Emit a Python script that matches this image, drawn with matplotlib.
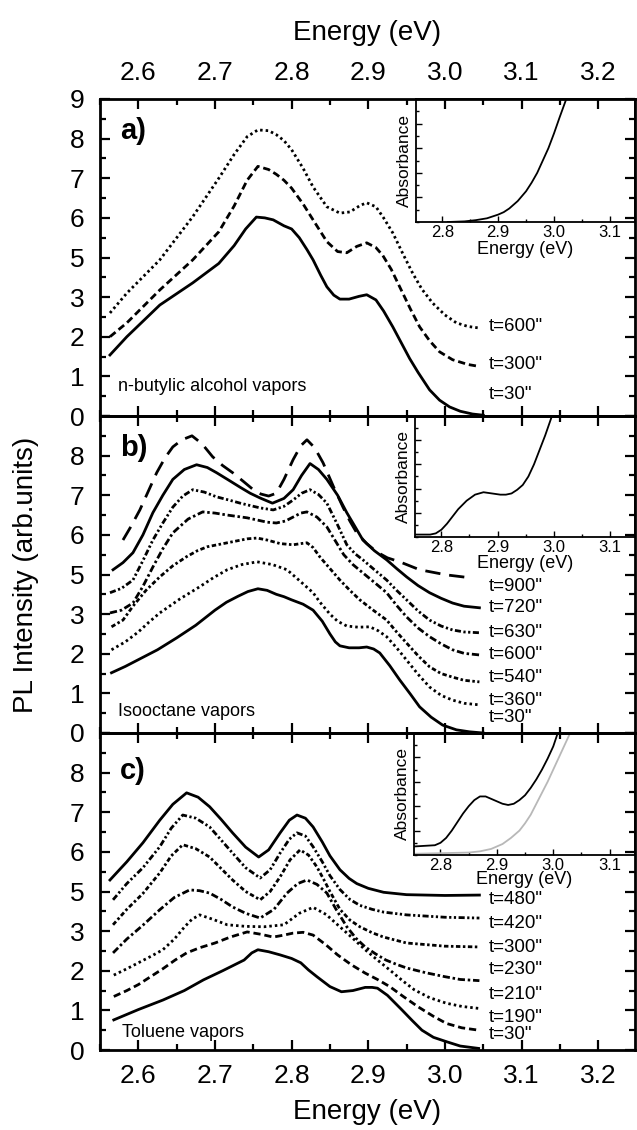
import matplotlib
matplotlib.use('Agg')
import matplotlib.pyplot as plt
from matplotlib.ticker import MultipleLocator

plt.rcParams['font.family'] = ['Liberation Sans', 'DejaVu Sans']

# ---------------- data ----------------
# y values are in plotted axis units (the original tick labels skip "4")

# panel a : n-butylic alcohol
E_a30 = [2.563, 2.585, 2.628, 2.671, 2.705, 2.725, 2.74, 2.754, 2.765, 2.776, 2.79, 2.80, 2.81, 2.82, 2.828, 2.838, 2.846, 2.855,
         2.863, 2.875, 2.888, 2.898, 2.91, 2.92, 2.932, 2.943, 2.954, 2.965, 2.98, 2.993, 3.006, 3.02, 3.036, 3.05]
I_a30 = [1.54, 2.0, 2.8, 3.36, 3.85, 4.3, 4.72, 5.02, 5.0, 4.95, 4.8, 4.72, 4.5, 4.2, 3.94, 3.55, 3.26, 3.05,
         2.95, 2.95, 3.02, 3.06, 2.93, 2.65, 2.25, 1.85, 1.45, 1.1, 0.66, 0.4, 0.23, 0.12, 0.05, 0.02]
E_a300 = [2.563, 2.585, 2.628, 2.671, 2.705, 2.725, 2.742, 2.756, 2.77, 2.78, 2.79, 2.80, 2.815, 2.828, 2.846, 2.86, 2.872, 2.885,
          2.898, 2.91, 2.919, 2.93, 2.941, 2.955, 2.967, 2.98, 2.993, 3.01, 3.03, 3.045]
I_a300 = [2.0, 2.35, 3.18, 3.94, 4.65, 5.3, 5.95, 6.3, 6.22, 6.1, 5.95, 5.75, 5.35, 4.95, 4.4, 4.15, 4.12, 4.28,
          4.37, 4.25, 4.05, 3.7, 3.26, 2.7, 2.25, 1.9, 1.62, 1.42, 1.3, 1.25]
E_a600 = [2.563, 2.585, 2.628, 2.671, 2.705, 2.725, 2.742, 2.756, 2.77, 2.78, 2.79, 2.80, 2.815, 2.828, 2.846, 2.863, 2.876, 2.89,
          2.898, 2.91, 2.92, 2.932, 2.945, 2.958, 2.97, 2.984, 3.0, 3.015, 3.03, 3.045]
I_a600 = [2.6, 3.1, 3.94, 5.03, 6.0, 6.6, 7.05, 7.22, 7.2, 7.1, 6.95, 6.72, 6.25, 5.78, 5.28, 5.12, 5.15, 5.32,
          5.38, 5.28, 5.0, 4.62, 4.1, 3.6, 3.2, 2.85, 2.55, 2.35, 2.26, 2.22]

# panel b : isooctane
E_b30 = [2.565, 2.583, 2.6, 2.625, 2.65, 2.675, 2.7, 2.715, 2.73, 2.743, 2.756, 2.768, 2.78, 2.79, 2.80, 2.815, 2.828, 2.84,
         2.85, 2.857, 2.863, 2.875, 2.888, 2.898, 2.907, 2.915, 2.928, 2.941, 2.955, 2.967, 2.982, 2.997, 3.015, 3.032, 3.05]
I_b30 = [1.52, 1.68, 1.85, 2.1, 2.4, 2.72, 3.1, 3.3, 3.45, 3.57, 3.64, 3.6, 3.5, 3.44, 3.36, 3.25, 3.1, 2.82,
         2.5, 2.3, 2.2, 2.15, 2.15, 2.17, 2.12, 2.02, 1.7, 1.34, 0.98, 0.66, 0.4, 0.2, 0.08, 0.03, 0.0]
E_b360 = [2.565, 2.583, 2.6, 2.614, 2.628, 2.654, 2.68, 2.698, 2.716, 2.735, 2.755, 2.775, 2.794, 2.81, 2.828, 2.837, 2.85,
          2.86, 2.872, 2.887, 2.902, 2.913, 2.924, 2.937, 2.95, 2.965, 2.98, 2.995, 3.01, 3.025, 3.045]
I_b360 = [2.1, 2.3, 2.55, 2.8, 3.03, 3.38, 3.69, 3.92, 4.12, 4.25, 4.32, 4.25, 4.12, 3.85, 3.54, 3.3, 3.0,
          2.82, 2.7, 2.67, 2.68, 2.58, 2.43, 2.15, 1.84, 1.48, 1.16, 0.95, 0.83, 0.75, 0.71]
E_b540 = [2.565, 2.58, 2.593, 2.61, 2.628, 2.645, 2.663, 2.677, 2.69, 2.716, 2.742, 2.755, 2.768, 2.785, 2.802, 2.812, 2.82,
          2.828, 2.837, 2.85, 2.863, 2.876, 2.889, 2.905, 2.924, 2.937, 2.95, 2.965, 2.98, 2.995, 3.01, 3.025, 3.045]
I_b540 = [2.68, 2.85, 3.2, 3.6, 3.94, 4.22, 4.45, 4.6, 4.7, 4.8, 4.9, 4.92, 4.87, 4.78, 4.75, 4.78, 4.8,
          4.68, 4.44, 4.15, 3.86, 3.6, 3.36, 3.12, 2.85, 2.55, 2.27, 1.95, 1.67, 1.5, 1.41, 1.33, 1.29]
E_b600 = [2.563, 2.578, 2.593, 2.606, 2.619, 2.632, 2.645, 2.665, 2.684, 2.7, 2.716, 2.742, 2.768, 2.78, 2.792, 2.802, 2.812,
          2.82, 2.833, 2.846, 2.857, 2.868, 2.88, 2.893, 2.908, 2.924, 2.937, 2.95, 2.965, 2.98, 2.995, 3.01, 3.025, 3.045]
I_b600 = [3.03, 3.1, 3.28, 3.7, 4.19, 4.65, 5.05, 5.4, 5.58, 5.55, 5.5, 5.43, 5.32, 5.3, 5.35, 5.45, 5.55,
          5.58, 5.45, 5.2, 4.85, 4.5, 4.25, 4.04, 3.8, 3.54, 3.22, 2.93, 2.65, 2.43, 2.25, 2.1, 2.01, 1.97]
E_b630 = [2.563, 2.578, 2.593, 2.606, 2.619, 2.632, 2.645, 2.658, 2.671, 2.686, 2.702, 2.718, 2.733, 2.746, 2.759, 2.776, 2.79,
          2.802, 2.813, 2.824, 2.835, 2.846, 2.86, 2.872, 2.883, 2.893, 2.908, 2.924, 2.937, 2.95, 2.965, 2.98, 2.995, 3.01,
          3.025, 3.045]
I_b630 = [3.54, 3.65, 3.86, 4.35, 4.87, 5.3, 5.7, 5.98, 6.14, 6.08, 5.96, 5.88, 5.8, 5.74, 5.68, 5.63, 5.72,
          5.88, 6.05, 6.14, 6.02, 5.8, 5.25, 4.75, 4.52, 4.37, 4.12, 3.86, 3.6, 3.36, 3.08, 2.85, 2.7, 2.6,
          2.55, 2.53]
E_b720 = [2.567, 2.58, 2.593, 2.606, 2.619, 2.632, 2.645, 2.66, 2.676, 2.69, 2.702, 2.718, 2.733, 2.746, 2.759, 2.775, 2.79,
          2.802, 2.813, 2.824, 2.835, 2.846, 2.86, 2.872, 2.883, 2.893, 2.908, 2.924, 2.937, 2.95, 2.965, 2.98, 2.995, 3.01,
          3.025, 3.045]
I_b720 = [4.12, 4.3, 4.55, 5.0, 5.56, 6.0, 6.4, 6.65, 6.77, 6.7, 6.57, 6.38, 6.2, 6.05, 5.93, 5.8, 5.92,
          6.14, 6.5, 6.8, 6.65, 6.4, 6.0, 5.56, 5.2, 4.87, 4.6, 4.37, 4.15, 3.94, 3.72, 3.54, 3.4, 3.28,
          3.2, 3.16]
E_b900 = [2.58, 2.59, 2.602, 2.613, 2.624, 2.635, 2.645, 2.657, 2.67, 2.683, 2.697, 2.71, 2.723, 2.737, 2.75, 2.76, 2.77,
          2.78, 2.79, 2.802, 2.812, 2.82, 2.83, 2.841, 2.855, 2.867, 2.876, 2.885, 2.898, 2.911, 2.925, 2.941, 2.967, 3.002,
          3.036]
I_b900 = [4.87, 5.2, 5.63, 6.1, 6.57, 6.95, 7.22, 7.4, 7.5, 7.3, 6.97, 6.75, 6.57, 6.35, 6.14, 6.03, 5.98,
          6.05, 6.4, 6.9, 7.25, 7.4, 7.2, 6.82, 6.2, 5.7, 5.35, 5.05, 4.78, 4.57, 4.42, 4.32, 4.12, 3.99,
          3.91]

# panel c : toluene
E_c30 = [2.568, 2.6, 2.632, 2.66, 2.685, 2.71, 2.738, 2.748, 2.756, 2.77, 2.785, 2.80, 2.812, 2.822, 2.833, 2.85, 2.865,
         2.88, 2.896, 2.905, 2.912, 2.925, 2.944, 2.957, 2.97, 2.985, 3.002, 3.02, 3.044]
I_c30 = [0.76, 1.02, 1.26, 1.5, 1.77, 2.0, 2.27, 2.45, 2.53, 2.48, 2.4, 2.31, 2.2, 2.02, 1.85, 1.6, 1.47,
         1.5, 1.58, 1.58, 1.56, 1.38, 1.01, 0.75, 0.5, 0.32, 0.21, 0.1, 0.04]
E_c190 = [2.568, 2.585, 2.6, 2.616, 2.632, 2.648, 2.663, 2.68, 2.7, 2.72, 2.742, 2.76, 2.776, 2.79, 2.802, 2.815, 2.828,
          2.845, 2.86, 2.878, 2.896, 2.912, 2.928, 2.945, 2.965, 2.985, 3.002, 3.022, 3.044]
I_c190 = [1.35, 1.5, 1.65, 1.85, 2.05, 2.27, 2.45, 2.58, 2.7, 2.85, 2.98, 2.92, 2.85, 2.9, 2.95, 2.97, 2.9,
          2.65, 2.4, 2.15, 1.94, 1.78, 1.6, 1.36, 1.09, 0.85, 0.67, 0.56, 0.5]
E_c210 = [2.568, 2.585, 2.60, 2.617, 2.632, 2.647, 2.66, 2.67, 2.68, 2.697, 2.716, 2.74, 2.764, 2.79, 2.81, 2.828, 2.845,
          2.86, 2.878, 2.896, 2.912, 2.928, 2.944, 2.96, 2.98, 3.002, 3.022, 3.044]
I_c210 = [1.89, 2.05, 2.2, 2.37, 2.53, 2.8, 3.1, 3.3, 3.41, 3.3, 3.16, 3.12, 3.11, 3.16, 3.45, 3.6, 3.42,
          3.16, 2.85, 2.53, 2.27, 2.02, 1.76, 1.52, 1.32, 1.18, 1.1, 1.05]
E_c230 = [2.567, 2.585, 2.606, 2.628, 2.647, 2.667, 2.68, 2.693, 2.708, 2.723, 2.74, 2.759, 2.777, 2.794, 2.808, 2.82, 2.833,
          2.846, 2.858, 2.872, 2.884, 2.896, 2.91, 2.923, 2.937, 2.95, 2.975, 3.0, 3.02, 3.045]
I_c230 = [2.45, 2.8, 3.15, 3.54, 3.85, 4.04, 4.02, 3.96, 3.8, 3.61, 3.45, 3.33, 3.55, 3.96, 4.2, 4.29, 4.18,
          3.96, 3.55, 3.11, 2.82, 2.6, 2.42, 2.27, 2.16, 2.07, 1.95, 1.85, 1.78, 1.75]
E_c300 = [2.567, 2.585, 2.606, 2.628, 2.643, 2.658, 2.675, 2.693, 2.708, 2.723, 2.74, 2.759, 2.772, 2.785, 2.798, 2.811, 2.822,
          2.833, 2.842, 2.85, 2.863, 2.876, 2.889, 2.905, 2.92, 2.95, 3.0, 3.045]
I_c300 = [3.16, 3.55, 3.95, 4.47, 4.9, 5.18, 5.08, 4.87, 4.58, 4.29, 4.0, 3.79, 4.0, 4.37, 4.8, 5.05, 4.92,
          4.62, 4.3, 4.0, 3.55, 3.28, 3.11, 2.96, 2.85, 2.7, 2.62, 2.6]
E_c420 = [2.567, 2.585, 2.606, 2.628, 2.643, 2.658, 2.675, 2.693, 2.708, 2.723, 2.74, 2.759, 2.772, 2.785, 2.797, 2.807, 2.818,
          2.828, 2.84, 2.85, 2.863, 2.876, 2.889, 2.905, 2.92, 2.95, 3.0, 3.045]
I_c420 = [3.79, 4.2, 4.6, 5.13, 5.6, 5.93, 5.85, 5.63, 5.3, 4.97, 4.6, 4.34, 4.55, 4.97, 5.32, 5.48, 5.4,
          5.13, 4.75, 4.4, 4.05, 3.8, 3.65, 3.55, 3.48, 3.41, 3.35, 3.33]
E_c480 = [2.563, 2.585, 2.606, 2.628, 2.645, 2.663, 2.678, 2.693, 2.708, 2.723, 2.74, 2.757, 2.77, 2.785, 2.797, 2.807, 2.818,
          2.828, 2.84, 2.85, 2.863, 2.875, 2.885, 2.9, 2.92, 2.95, 3.0, 3.045]
I_c480 = [4.29, 4.75, 5.23, 5.8, 6.2, 6.49, 6.38, 6.14, 5.82, 5.48, 5.12, 4.87, 5.05, 5.48, 5.8, 5.93, 5.85,
          5.63, 5.25, 4.9, 4.55, 4.33, 4.2, 4.08, 3.98, 3.92, 3.9, 3.91]

# insets (absorbance, arbitrary 0..1)
E_ins_a = [2.81, 2.84, 2.86, 2.88, 2.9, 2.91, 2.92, 2.935, 2.95, 2.96, 2.97, 2.98, 2.99, 3.0, 3.01, 3.022]
A_ins_a = [0.0, 0.005, 0.015, 0.03, 0.06, 0.08, 0.11, 0.17, 0.25, 0.32, 0.4, 0.5, 0.6, 0.72, 0.85, 1.0]
E_ins_b = [2.753, 2.78, 2.79, 2.8, 2.81, 2.82, 2.83, 2.845, 2.86, 2.875, 2.89, 2.905, 2.915, 2.925, 2.935, 2.945, 2.955,
           2.965, 2.975, 2.985, 2.997]
A_ins_b = [0.02, 0.02, 0.03, 0.06, 0.11, 0.17, 0.23, 0.3, 0.35, 0.37, 0.36, 0.35, 0.35, 0.36, 0.39, 0.43, 0.5,
           0.6, 0.72, 0.84, 1.0]
E_ins_c = [2.753, 2.79, 2.80, 2.81, 2.82, 2.83, 2.84, 2.85, 2.86, 2.87, 2.88, 2.89, 2.9, 2.91, 2.92, 2.93, 2.94,
           2.95, 2.96, 2.97, 2.98, 2.99, 3.0, 3.008]
A_ins_c = [0.07, 0.08, 0.1, 0.14, 0.2, 0.27, 0.34, 0.4, 0.45, 0.48, 0.48, 0.46, 0.44, 0.42, 0.41, 0.42, 0.45,
           0.49, 0.55, 0.62, 0.7, 0.79, 0.89, 1.0]
E_ins_c_ref = [2.753, 2.85, 2.87, 2.89, 2.91, 2.925, 2.94, 2.95, 2.96, 2.97, 2.98, 2.99, 3.0, 3.01, 3.02, 3.03]
A_ins_c_ref = [0.01, 0.02, 0.03, 0.05, 0.09, 0.14, 0.2, 0.26, 0.33, 0.42, 0.51, 0.6, 0.7, 0.8, 0.9, 1.0]

yticklabels_a = ['0', '1', '2', '3', '5', '6', '7', '8', '9']
yticklabels_bc = ['0', '1', '2', '3', '5', '6', '7', '8', '']

# ---------------- styles ----------------
SOLID = '-'
DASH = (0, (2.6, 1.4))
DOT = (0, (0.9, 1.1))
DASHDOT = (0, (2.6, 1.0, 0.9, 1.0))
DASHDOT2 = (0, (1.6, 0.9, 0.9, 0.9))
DASHDOTDOT = (0, (2.2, 0.9, 0.8, 0.9, 0.8, 0.9))
LONGDASH = (0, (5.5, 3.2))

panel_a = [(E_a30, I_a30, SOLID, 't=30"', 0.53),
           (E_a300, I_a300, DASH, 't=300"', 1.29),
           (E_a600, I_a600, DOT, 't=600"', 2.25)]
panel_b = [(E_b30, I_b30, SOLID, 't=30"', 0.38),
           (E_b360, I_b360, DOT, 't=360"', 0.83),
           (E_b540, I_b540, DASHDOT2, 't=540"', 1.41),
           (E_b600, I_b600, DASHDOT, 't=600"', 1.97),
           (E_b630, I_b630, DASHDOTDOT, 't=630"', 2.53),
           (E_b720, I_b720, SOLID, 't=720"', 3.16),
           (E_b900, I_b900, LONGDASH, 't=900"', 3.69)]
panel_c = [(E_c30, I_c30, SOLID, 't=30"', 0.38),
           (E_c190, I_c190, DASH, 't=190"', 0.83),
           (E_c210, I_c210, DOT, 't=210"', 1.39),
           (E_c230, I_c230, DASHDOT, 't=230"', 2.02),
           (E_c300, I_c300, DASHDOT2, 't=300"', 2.58),
           (E_c420, I_c420, DASHDOTDOT, 't=420"', 3.2),
           (E_c480, I_c480, SOLID, 't=480"', 3.79)]

W, H = 637, 1130
fig = plt.figure(figsize=(W / 100, H / 100), dpi=100)

left, width = 100 / W, 535 / W
ph = 317 / H
bottoms = [1 - 416 / H, 1 - 733 / H, 1 - 1050 / H]


def style_main(ax, ylabels):
    ax.set_xlim(2.55, 3.248)
    ax.set_ylim(0, 8)
    ax.xaxis.set_major_locator(MultipleLocator(0.1))
    ax.xaxis.set_minor_locator(MultipleLocator(0.05))
    ax.set_yticks(range(9))
    ax.set_yticklabels(ylabels)
    ax.yaxis.set_minor_locator(MultipleLocator(0.5))
    ax.tick_params(which='both', direction='in', top=True, right=True,
                   bottom=True, left=True, width=1.6, labelsize=19,
                   labelbottom=False)
    ax.tick_params(which='major', length=7)
    ax.tick_params(which='minor', length=4)
    ax.tick_params(axis='y', pad=11)
    ax.tick_params(axis='x', pad=10)
    for s in ax.spines.values():
        s.set_linewidth(2.0)
    ax.set_zorder(2)
    ax.patch.set_alpha(0)


def style_inset(ins, curves, labelpad):
    for e, a, c in curves:
        ins.plot(e, a, color=c, lw=1.3)
    ins.set_xlim(2.753, 3.145)
    ins.set_ylim(0, 1)
    ins.set_xticks([2.8, 2.9, 3.0, 3.1])
    ins.xaxis.set_minor_locator(MultipleLocator(0.05))
    ins.set_yticks([0.2, 0.4, 0.6, 0.8])
    ins.yaxis.set_minor_locator(MultipleLocator(0.1))
    ins.tick_params(which='both', direction='in', labelleft=False,
                    labelsize=12, pad=2, width=1.0)
    ins.tick_params(which='major', length=4)
    ins.tick_params(which='minor', length=2)
    ins.set_xlabel('Energy (eV)', fontsize=13, labelpad=labelpad)
    ins.set_ylabel('Absorbance', fontsize=12.5, labelpad=3)
    for s in ins.spines.values():
        s.set_linewidth(1.3)
    ins.set_zorder(1)


panels = [(panel_a, 'a', 7.2, 'n-butylic alcohol vapors', 2.574, 0.74),
          (panel_b, 'b', 7.2, 'Isooctane vapors', 2.574, 0.55),
          (panel_c, 'c', 7.05, 'Toluene vapors', 2.579, 0.45)]

axes = []
for i, (panel, tag, tag_y, name, name_x, name_y) in enumerate(panels):
    ax = fig.add_axes([left, bottoms[i], width, ph])
    for e, y, ls, lab, ly in panel:
        ax.plot(e, y, color='black', lw=2.0, linestyle=ls)
        ax.text(3.057, ly, lab, fontsize=13.5, va='center', ha='left')
    style_main(ax, yticklabels_a if i == 0 else yticklabels_bc)
    ax.text(2.576, tag_y, tag + ')', fontsize=21,
            fontweight='bold', va='center', ha='left')
    ax.text(name_x, name_y, name, fontsize=13, va='center', ha='left')
    axes.append(ax)

ax_a, ax_b, ax_c = axes
ax_a.tick_params(labeltop=True)
ax_a.set_xlabel('Energy (eV)', fontsize=20, labelpad=15)
ax_a.xaxis.set_label_position('top')
ax_c.tick_params(labelbottom=True)
ax_c.set_xlabel('Energy (eV)', fontsize=20, labelpad=8)
ax_b.set_ylabel('PL Intensity (arb.units)', fontsize=20, labelpad=22)

# insets
ins_a = fig.add_axes([416 / W, 1 - 222 / H, 219 / W, 123 / H])
style_inset(ins_a, [(E_ins_a, A_ins_a, 'black')], 1)
ins_b = fig.add_axes([415 / W, 1 - 537 / H, 220 / W, 121 / H])
style_inset(ins_b, [(E_ins_b, A_ins_b, 'black')], 0)
ins_c = fig.add_axes([414 / W, 1 - 855 / H, 221 / W, 122 / H])
style_inset(ins_c, [(E_ins_c_ref, A_ins_c_ref, '#b8b8b8'), (E_ins_c, A_ins_c, 'black')], -1)

fig.savefig('out.png', dpi=100)
